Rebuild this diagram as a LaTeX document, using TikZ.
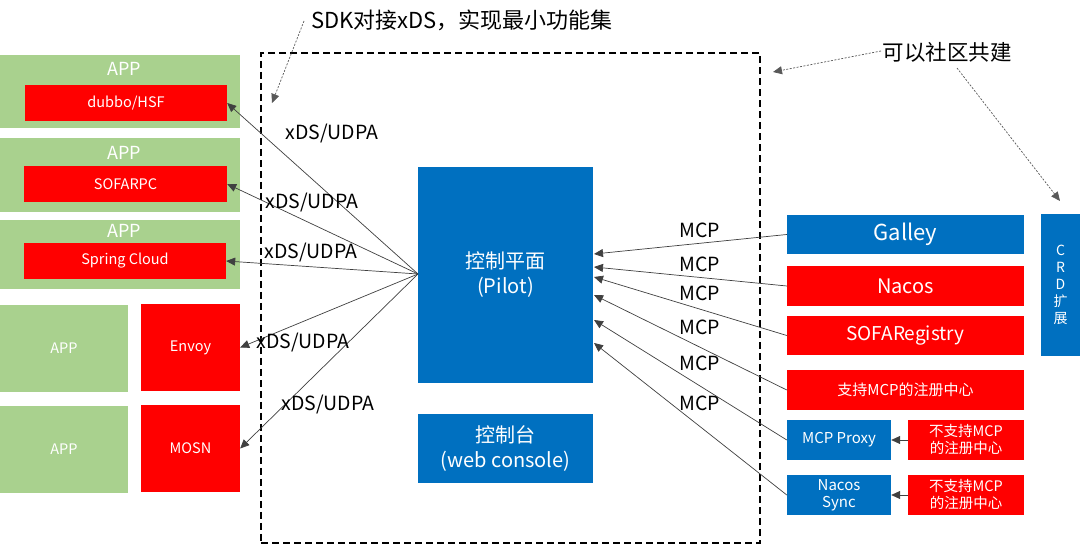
\documentclass[tikz,border=0pt]{standalone}
\usepackage{fontspec}
\setmainfont{Noto Sans CJK SC}
\usetikzlibrary{arrows.meta}
\definecolor{cblue}{HTML}{0070C0}
\definecolor{cred}{HTML}{FF0000}
\definecolor{cgreen}{HTML}{A9D18E}
\begin{document}
\begin{tikzpicture}[x=1pt,y=-1pt,
  box/.style={draw=none, inner sep=0pt, text=white, align=center, anchor=center},
  gbox/.style={box, fill=cgreen},
  rbox/.style={box, fill=cred},
  bbox/.style={box, fill=cblue},
  fa/.style={font=\fontsize{14.5}{17}\selectfont},
  fb/.style={font=\fontsize{18}{21}\selectfont},
  fc/.style={font=\fontsize{20}{25}\selectfont},
  lbl/.style={inner sep=0pt, text=black, font=\fontsize{19.5}{22}\selectfont},
  conn/.style={draw=black!75, line width=0.7pt, -{Triangle[length=9pt,width=8pt]}},
  note/.style={draw=black!65, line width=0.7pt, dash pattern=on 2pt off 1.5pt, -{Triangle[length=9pt,width=8pt]}}
]
\useasboundingbox (0,0) rectangle (1080,545);
\fill[white] (0,0) rectangle (1080,545);

% dashed frame
\node[draw=black, line width=1.6pt, dash pattern=on 7pt off 4pt, minimum width=499pt, minimum height=490pt, inner sep=0pt] (frame) at (510.5,298) {};

% left APP groups
\node[gbox, minimum width=240pt, minimum height=73pt] (app1) at (120,91.5) {};
\node[box, fb] (app1t) at (124,69) {APP};
\node[rbox, fa, minimum width=202pt, minimum height=36pt] (dubbo) at (126,103) {dubbo/HSF};

\node[gbox, minimum width=240pt, minimum height=74pt] (app2) at (120,175) {};
\node[box, fb] (app2t) at (124,153) {APP};
\node[rbox, fa, minimum width=203pt, minimum height=36pt] (sofarpc) at (125.5,184) {SOFARPC};

\node[gbox, minimum width=240pt, minimum height=69pt] (app3) at (120,254.5) {};
\node[box, fb] (app3t) at (124,231) {APP};
\node[rbox, fa, minimum width=202pt, minimum height=36pt] (spring) at (125,261) {Spring Cloud};

\node[gbox, fa, minimum width=128pt, minimum height=87pt] (app4) at (64,348.5) {APP};
\node[rbox, fa, minimum width=99pt, minimum height=87pt] (envoy) at (190.5,347.5) {Envoy};
\node[gbox, fa, minimum width=128pt, minimum height=87pt] (app5) at (64,449.5) {APP};
\node[rbox, fa, minimum width=99pt, minimum height=87pt] (mosn) at (190.5,448.5) {MOSN};

% control plane
\node[bbox, fc, minimum width=175pt, minimum height=216pt] (pilot) at (505.5,275) {控制平面\\(Pilot)};
\node[bbox, fc, minimum width=175pt, minimum height=69pt] (console) at (505.5,448.5) {控制台\\(web console)};

% right registries
\node[bbox, font=\fontsize{22}{26}\selectfont, minimum width=237pt, minimum height=39pt] (galley) at (905.5,234.5) {Galley};
\node[rbox, fc, minimum width=237pt, minimum height=40pt] (nacos) at (905.5,286) {Nacos};
\node[rbox, font=\fontsize{19}{23}\selectfont, minimum width=237pt, minimum height=39pt] (sofareg) at (905.5,335.5) {SOFARegistry};
\node[rbox, font=\fontsize{15}{18}\selectfont, minimum width=237pt, minimum height=40pt] (mcpreg) at (905.5,390) {支持MCP的注册中心};
\node[bbox, font=\fontsize{15}{17}\selectfont, minimum width=104pt, minimum height=40pt] (proxy) at (839,440) {MCP Proxy};
\node[rbox, font=\fontsize{14.5}{17}\selectfont, minimum width=116pt, minimum height=40pt] (nomcp1) at (966,440) {不支持MCP\\的注册中心};
\node[bbox, font=\fontsize{15}{17}\selectfont, minimum width=104pt, minimum height=40pt] (sync) at (839,495) {Nacos\\Sync};
\node[rbox, font=\fontsize{14.5}{17}\selectfont, minimum width=116pt, minimum height=40pt] (nomcp2) at (966,495) {不支持MCP\\的注册中心};
\node[bbox, font=\fontsize{14}{17}\selectfont, minimum width=39pt, minimum height=142pt] (crd) at (1060.5,285) {C\\R\\D\\扩\\展};

% annotations
\node[lbl, font=\fontsize{22}{26}\selectfont] (sdk) at (462,20) {SDK对接xDS，实现最小功能集};
\node[lbl, font=\fontsize{21.5}{26}\selectfont] (community) at (947,52) {可以社区共建};
\coordinate (sdkS) at (304,21);
\coordinate (sdkE) at (272,103);
\coordinate (comS1) at (881,51);
\coordinate (comE1) at (773,72);
\coordinate (comS2) at (957,68);
\coordinate (comE2) at (1060,201);
\draw[note] (sdkS) -- (sdkE);
\draw[note] (comS1) -- (comE1);
\draw[note] (comS2) -- (comE2);

% left fan
\coordinate (pL) at (418,274);
\draw[conn] (pL) -- (dubbo.east);
\draw[conn] (pL) -- (sofarpc.east);
\draw[conn] (pL) -- (spring.east);
\draw[conn] (pL) -- (envoy.east);
\draw[conn] (pL) -- (mosn.east);
\node[lbl] (x1) at (332,134) {xDS/UDPA};
\node[lbl] (x2) at (312,203) {xDS/UDPA};
\node[lbl] (x3) at (311,253) {xDS/UDPA};
\node[lbl] (x4) at (303,343) {xDS/UDPA};
\node[lbl] (x5) at (328,405) {xDS/UDPA};

% right arrows into pilot
\coordinate (r1) at (594,254);
\coordinate (r2) at (594,267);
\coordinate (r3) at (594,277);
\coordinate (r4) at (594,295);
\coordinate (r5) at (594,320);
\coordinate (r6) at (594,343);
\draw[conn] (galley.west) -- (r1);
\draw[conn] (nacos.west) -- (r2);
\draw[conn] (sofareg.west) -- (r3);
\draw[conn] (mcpreg.west) -- (r4);
\draw[conn] (proxy.west) -- (r5);
\draw[conn] (sync.west) -- (r6);
\node[lbl] (m1) at (700,230) {MCP};
\node[lbl] (m2) at (700,264) {MCP};
\node[lbl] (m3) at (700,293) {MCP};
\node[lbl] (m4) at (700,327) {MCP};
\node[lbl] (m5) at (700,363) {MCP};
\node[lbl] (m6) at (700,403) {MCP};

\draw[conn] (nomcp1.west) -- (proxy.east);
\draw[conn] (nomcp2.west) -- (sync.east);
\end{tikzpicture}
\end{document}
